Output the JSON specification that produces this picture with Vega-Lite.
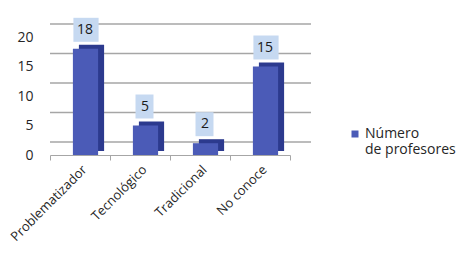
{
  "$schema": "https://vega.github.io/schema/vega-lite/v6.json",
  "width": 240,
  "height": 118,
  "autosize": "none",
  "padding": {"left": 50, "top": 37, "right": 166, "bottom": 104},
  "background": "white",
  "config": {"view": {"stroke": null}, "font": "Open Sans"},
  "datasets": {
    "barras": [
      {"categoria": "Problematizador", "valor": 18, "serie": "Número de profesores"},
      {"categoria": "Tecnológico", "valor": 5, "serie": "Número de profesores"},
      {"categoria": "Tradicional", "valor": 2, "serie": "Número de profesores"},
      {"categoria": "No conoce", "valor": 15, "serie": "Número de profesores"}
    ],
    "grid": [{"valor": 0}, {"valor": 5}, {"valor": 10}, {"valor": 15}, {"valor": 20}]
  },
  "encoding": {
    "y": {
      "field": "valor", "type": "quantitative",
      "scale": {"domain": [0, 20], "nice": false},
      "axis": {"title": null, "tickCount": 5, "labelOverlap": false, "labelSeparation": 0, "domain": false, "ticks": false, "grid": false, "labelPadding": 17, "labelFontSize": 14, "labelColor": "#262626"}
    }
  },
  "layer": [
    {
      "data": {"name": "grid"},
      "mark": {"type": "rule", "xOffset": 21, "yOffset": -13, "color": "#a6a6a6", "strokeWidth": 1.3}
    },
    {
      "data": {"name": "barras"},
      "mark": {"type": "bar", "width": {"band": 0.42}, "xOffset": 11.5, "yOffset": -4, "color": "#2c3a8e"},
      "encoding": {
        "x": {
          "field": "categoria", "type": "nominal", "sort": null,
          "scale": {"paddingInner": 0, "paddingOuter": 0},
          "axis": {"title": null, "labelAngle": -45, "labelFontSize": 13, "labelColor": "#262626", "domainColor": "#a6a6a6", "tickColor": "#a6a6a6", "tickBand": "extent", "tickSize": 5, "labelPadding": 3, "grid": false}
        }
      }
    },
    {
      "data": {"name": "barras"},
      "mark": {"type": "bar", "width": {"band": 0.42}, "xOffset": 5.5},
      "encoding": {
        "x": {"field": "categoria", "type": "nominal", "sort": null},
        "color": {
          "field": "serie", "type": "nominal",
          "scale": {"range": ["#4b5bb7"]},
          "legend": {"title": null, "orient": "none", "legendX": 298, "legendY": 90, "symbolType": "square", "symbolSize": 49, "labelFontSize": 14, "labelColor": "#262626", "labelExpr": "['Número', 'de profesores']", "labelOffset": 3}
        }
      }
    },
    {
      "data": {"name": "barras"},
      "transform": [{"filter": "datum.valor >= 10"}],
      "mark": {"type": "point", "shape": "M-1.05,-1H1.05V1H-1.05Z", "size": 576, "filled": true, "color": "#c6d9f1", "opacity": 1, "xOffset": 6, "yOffset": -19},
      "encoding": {
        "x": {"field": "categoria", "type": "nominal", "sort": null}
      }
    },
    {
      "data": {"name": "barras"},
      "transform": [{"filter": "datum.valor < 10"}],
      "mark": {"type": "point", "shape": "M-0.75,-1H0.75V1H-0.75Z", "size": 576, "filled": true, "color": "#c6d9f1", "opacity": 1, "xOffset": 4.5, "yOffset": -19},
      "encoding": {
        "x": {"field": "categoria", "type": "nominal", "sort": null}
      }
    },
    {
      "data": {"name": "barras"},
      "mark": {"type": "text", "fontSize": 14, "color": "#1a1a1a", "xOffset": 5, "yOffset": -19, "baseline": "middle", "align": "center"},
      "encoding": {
        "x": {"field": "categoria", "type": "nominal", "sort": null},
        "text": {"field": "valor", "type": "quantitative"}
      }
    }
  ]
}
